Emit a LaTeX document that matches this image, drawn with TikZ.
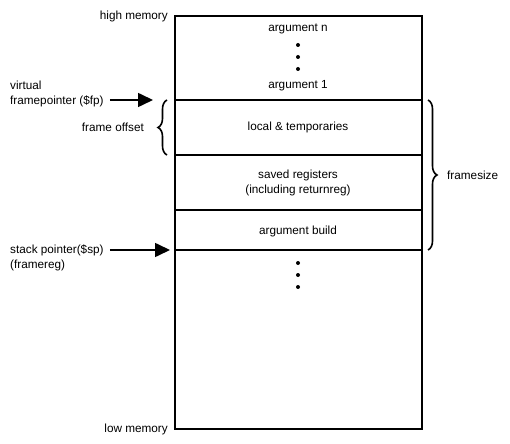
\documentclass[tikz,border=0pt]{standalone}
\usepackage{fontspec}
\setmainfont{Liberation Sans}
\usetikzlibrary{arrows.meta,positioning,decorations.pathreplacing}

\begin{document}
\begin{tikzpicture}[
    x=1bp, y=-1bp,
    font=\fontsize{11.8}{15}\selectfont,
    stack/.style={draw=black, line width=1.6bp, minimum width=247bp, minimum height=413bp, inner sep=0pt},
    divider/.style={line width=1.6bp},
    lbl/.style={inner sep=0pt, align=center},
    side/.style={inner sep=0pt, align=left},
    arrow/.style={-{Triangle[length=15bp,width=14bp]}, line width=1.6bp},
    brc/.style={decorate, decoration={brace, amplitude=9bp}, line width=1.6bp},
    dot/.style={circle, fill=black, inner sep=0pt, minimum size=4bp}
]
\useasboundingbox (0,0) rectangle (510,444);

% the stack
\node[stack] (stack) at (298.5,222.5) {};
\coordinate (fp) at (175,100);
\coordinate (cut1) at (175,155);
\coordinate (cut2) at (175,210);
\coordinate (sp) at (175,250);
\draw[divider] (fp) -- (fp -| stack.east);
\draw[divider] (cut1) -- (cut1 -| stack.east);
\draw[divider] (cut2) -- (cut2 -| stack.east);
\draw[divider] (sp) -- (sp -| stack.east);

% cell contents
\node[lbl] (argn) at (298,29) {argument n};
\node[lbl] (arg1) at (298,86) {argument 1};
\node[lbl] (locals) at (298,127) {local \& temporaries};
\node[lbl] (saved) at (298,183) {saved registers\\(including returnreg)};
\node[lbl] (build) at (298,231) {argument build};
\foreach \y in {45,57,69,263,275,287}
    \node[dot] at (298,\y) {};

% memory ends
\node[side, anchor=east] (high) at (168,16) {high memory};
\node[side, anchor=east] (low) at (168,429) {low memory};

% pointers
\node[side, anchor=west] (fplabel) at (10,94) {virtual\\framepointer (\$fp)};
\node[side, anchor=west] (splabel) at (10,258) {stack pointer(\$sp)\\(framereg)};
\coordinate (fptip) at (153,100);
\coordinate (sptip) at (170,250);
\draw[arrow] (fplabel.east |- fptip) ++(6,0) -- (fptip);
\draw[arrow] (splabel.east |- sptip) ++(6,0) -- (sptip);

% braces
\draw[brc] (167,155) -- (167,100);
\node[side, anchor=east] (offset) at (144,127) {frame offset};
\draw[brc] (428,100) -- (428,250);
\node[side, anchor=west] (fsize) at (447,175) {framesize};

\end{tikzpicture}
\end{document}
